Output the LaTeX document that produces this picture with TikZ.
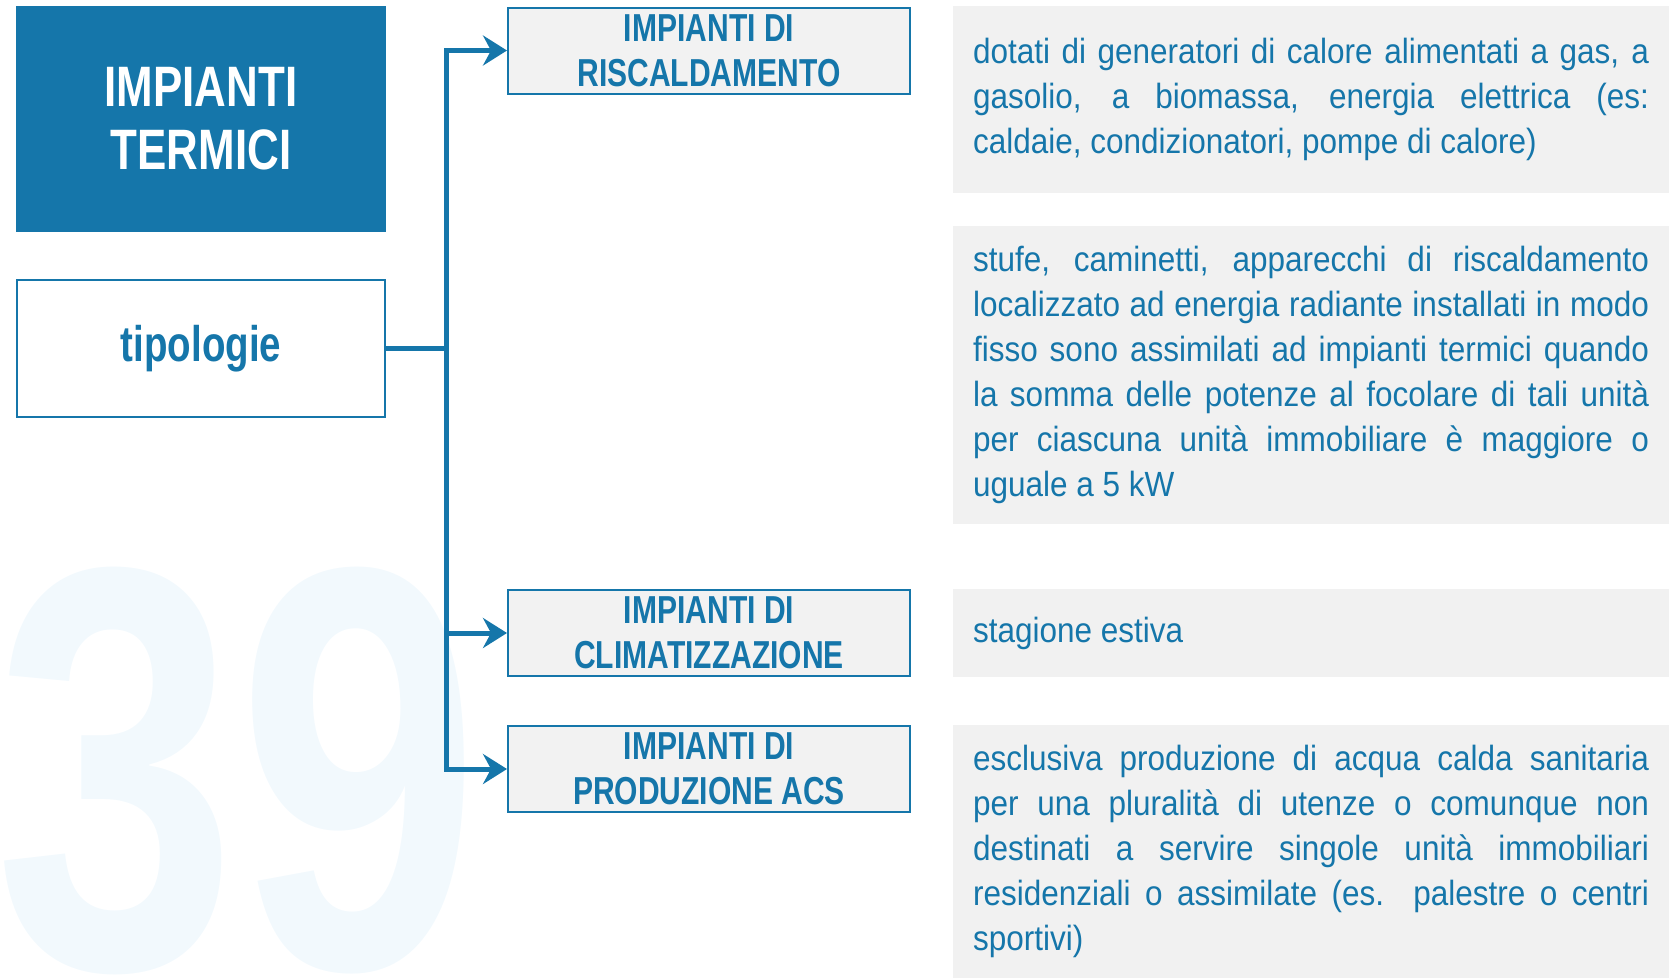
\documentclass[tikz,border=0pt]{standalone}
\usepackage{fontspec}
\setmainfont{Liberation Sans}[FakeStretch=0.9]
\newfontfamily\headfont{Liberation Sans}[FakeStretch=0.77]
\newfontfamily\numfont{Liberation Sans}[FakeStretch=0.76]
\usetikzlibrary{arrows.meta}
\definecolor{tblue}{RGB}{21,118,170}
\definecolor{panelgray}{RGB}{241,241,241}
\definecolor{boxgray}{RGB}{242,242,242}
\definecolor{wmark}{RGB}{242,249,253}
\begin{document}
\begin{tikzpicture}[x=1pt, y=-1pt,
	titlebox/.style={fill=tblue, text=white, minimum width=370pt, minimum height=226pt, inner sep=0pt, align=center, font=\headfont\bfseries\fontsize{57}{63}\selectfont},
	tipbox/.style={draw=tblue, line width=2pt, fill=white, text=tblue, minimum width=368pt, minimum height=137pt, inner sep=0pt, font=\headfont\bfseries\fontsize{50}{60}\selectfont},
	kindbox/.style={draw=tblue, line width=2pt, fill=boxgray, text=tblue, minimum width=402pt, minimum height=86pt, inner sep=0pt, align=center, font=\headfont\bfseries\fontsize{39}{45}\selectfont},
	panel/.style={fill=panelgray, text=tblue, text width=676pt, inner xsep=20pt, inner ysep=0pt, align=justify, font=\fontsize{35}{45}\selectfont},
	link/.style={draw=tblue, line width=5pt},
	arr/.style={link, -{Stealth[length=24pt, width=30pt, inset=8pt]}}]
	\useasboundingbox (0,0) rectangle (1669,978);
	\node[text=wmark, anchor=base west, inner sep=0pt, font=\numfont\bfseries\fontsize{575}{575}\selectfont] (num) at (-6,968) {39};

	\node[titlebox] (title) at (201,119) {IMPIANTI\\TERMICI};
	\node[tipbox] (tip) at (201,348.5) {tipologie};

	\node[kindbox] (risc) at (709,50.5) {IMPIANTI DI\\RISCALDAMENTO};
	\node[kindbox] (clim) at (709,633) {IMPIANTI DI\\CLIMATIZZAZIONE};
	\node[kindbox] (acs) at (709,769) {IMPIANTI DI\\PRODUZIONE ACS};

	\node[panel, minimum height=187pt] (p1) at (1311,99.5) {dotati di generatori di calore alimentati a gas, a\linebreak gasolio, a biomassa, energia elettrica (es:\linebreak caldaie, condizionatori, pompe di calore)};
	\node[panel, minimum height=298pt] (p2) at (1311,375) {stufe, caminetti, apparecchi di riscaldamento\linebreak localizzato ad energia radiante installati in modo\linebreak fisso sono assimilati ad impianti termici quando\linebreak la somma delle potenze al focolare di tali unità\linebreak per ciascuna unità immobiliare è maggiore o\linebreak uguale a 5 kW};
	\node[panel, minimum height=88pt] (p3) at (1311,633) {stagione estiva};
	\node[panel, minimum height=253pt] (p4) at (1311,851.5) {esclusiva produzione di acqua calda sanitaria\linebreak per una pluralità di utenze o comunque non\linebreak destinati a servire singole unità immobiliari\linebreak residenziali o assimilate (es.\ \ palestre o centri\linebreak sportivi)};

	\coordinate (jn) at (446,348.5);
	\draw[link] (tip.east) -- (jn);
	\draw[arr] (jn) |- (risc.west);
	\draw[arr] (jn) |- (clim.west);
	\draw[arr] (jn) |- (acs.west);
\end{tikzpicture}
\end{document}
